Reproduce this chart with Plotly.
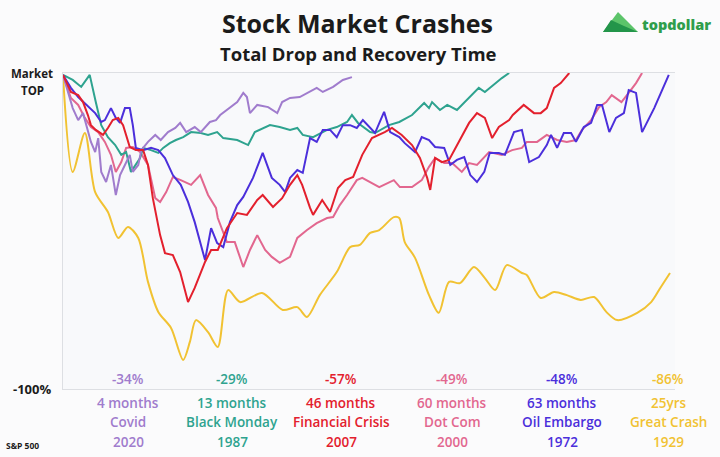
import plotly.graph_objects as go

# ---------------- data (x: share of timeline 0-100, y: % below market top) -------------
great_crash_x = [0, 1.6, 3.6, 5.3, 7.4, 9.1, 10.7, 12.4, 14.0, 15.7, 17.8, 19.8, 20.9, 21.9, 23.9, 25.5,
                 27.2, 29.2, 32.8, 36.2, 38.6, 40.2, 42.3, 45.1, 47.3, 48.9, 50.6, 52.1, 54.5, 55.4,
                 56.3, 58.0, 60.3, 61.9, 63.6, 65.4, 67.7, 69.5, 71.2, 73.1, 75.6, 76.4, 78.7, 80.9,
                 83.0, 85.3, 87.5, 89.5, 91.3, 94.6, 96.9, 98.5, 100]
great_crash_y = [-0.6, -31.3, -19.0, -37.7, -44.0, -52.2, -48.7, -52.2, -66.1, -75.6, -80.7, -90.8, -85.1,
                 -78.2, -82.0, -86.7, -68.7, -72.5, -69.6, -75.0, -74.1, -77.2, -70.3, -63.0, -55.1,
                 -54.4, -50.6, -49.7, -45.6, -45.9, -53.5, -58.5, -70.3, -75.9, -66.1, -66.5, -61.4,
                 -64.9, -68.7, -60.8, -63.3, -63.9, -71.2, -69.3, -70.3, -71.8, -70.9, -75.6, -78.2,
                 -75.9, -72.5, -67.7, -63.3]

dot_com_x = [0, 1.3, 2.5, 3.6, 4.6, 5.8, 6.9, 7.9, 8.7, 9.6, 10.4, 11.5, 12.7, 14.0, 15.2, 16.0, 17.0,
             18.1, 19.4, 21.1, 22.6, 23.9, 25.2, 25.5, 27.0, 28.3, 29.7, 30.8, 32.0, 33.3, 34.4, 35.7,
             37.4, 38.6, 40.2, 41.8, 43.5, 44.5, 45.6, 46.8, 48.4, 49.3, 52.1, 54.5, 55.5, 57.5, 59.1,
             60.3, 61.3, 62.8, 64.1, 65.7, 66.9, 68.2, 70.2, 72.3, 74.0, 75.6, 76.4, 78.1, 79.7, 81.4,
             83.0, 84.5, 85.5, 87.0, 88.3, 89.5, 90.4, 92.0, 93.2, 94.4, 95.4]
dot_com_y = [-0.6, -7.9, -10.1, -14.2, -17.1, -18.7, -21.8, -25.9, -31.3, -28.2, -23.7, -23.4, -25.0,
             -29.1, -39.6, -40.8, -37.7, -32.9, -33.9, -35.4, -32.3, -38.6, -42.7, -45.9, -53.5, -53.5,
             -61.4, -56.0, -51.3, -56.0, -58.2, -60.1, -58.2, -52.2, -49.7, -47.5, -45.9, -45.6, -41.8,
             -38.6, -33.9, -33.2, -36.1, -33.9, -36.1, -36.1, -33.9, -29.7, -26.9, -28.5, -28.5, -31.3,
             -28.5, -29.1, -25.0, -25.9, -24.4, -23.7, -21.8, -21.8, -19.6, -21.2, -21.8, -21.2, -18.0,
             -14.9, -10.8, -9.2, -7.0, -9.2, -6.3, -3.2, 0]

black_monday_x = [0, 1.6, 3.0, 4.4, 5.4, 6.3, 7.4, 8.6, 9.6, 10.4, 11.2, 12.0, 12.7, 13.2, 14.5, 15.7,
                  16.5, 17.6, 18.6, 19.8, 21.1, 22.7, 23.9, 25.4, 26.4, 28.7, 30.5, 31.6, 34.1, 35.7,
                  37.4, 38.6, 39.5, 41.2, 43.5, 45.1, 46.8, 47.6, 48.6, 50.6, 51.4, 53.7, 55.4, 57.5,
                  59.5, 60.3, 60.8, 62.1, 63.3, 64.9, 66.9, 68.5, 69.5, 71.2, 72.3, 73.5]
black_monday_y = [-0.6, -2.2, -4.4, -0.6, -9.2, -16.5, -20.3, -22.8, -25.9, -25.0, -31.3, -29.1, -26.9,
                  -23.7, -24.4, -25.3, -23.7, -22.2, -21.2, -20.3, -18.7, -19.0, -19.6, -18.7, -20.6,
                  -21.2, -22.8, -18.7, -16.5, -17.1, -18.0, -17.4, -19.6, -20.3, -18.0, -17.1, -15.5,
                  -13.3, -15.8, -18.7, -19.0, -16.5, -15.5, -13.3, -9.5, -11.1, -9.2, -11.7, -10.1,
                  -11.7, -7.9, -4.7, -6.0, -3.2, -1.6, 0]

covid_x = [0, 1.6, 2.5, 3.3, 4.6, 5.3, 5.8, 6.3, 7.1, 7.9, 8.7, 9.4, 10.2, 11.0, 11.5, 12.4, 12.9, 14.0,
           15.2, 16.1, 17.3, 18.5, 19.3, 20.3, 21.7, 22.7, 24.2, 25.2, 25.9, 27.5, 28.7, 29.7, 30.3,
           30.8, 32.0, 33.8, 35.3, 36.1, 37.4, 39.0, 40.7, 41.8, 42.8, 44.5, 46.1, 47.6]
covid_y = [-0.6, -11.1, -14.9, -12.7, -21.8, -25.0, -20.6, -31.3, -34.5, -29.1, -38.6, -32.3, -29.1,
           -25.9, -31.3, -29.1, -24.4, -21.8, -19.6, -21.2, -18.7, -17.4, -15.8, -18.7, -17.1, -18.7,
           -15.5, -14.9, -13.3, -11.1, -9.2, -6.3, -7.6, -12.7, -10.1, -10.8, -12.7, -9.2, -7.9, -7.6,
           -6.0, -4.7, -6.0, -4.4, -2.2, -1.3]

oil_embargo_x = [0, 1.3, 2.5, 3.8, 5.3, 6.3, 6.9, 7.9, 8.7, 9.4, 10.2, 11.0, 11.5, 12.0, 13.2, 14.5,
                 15.7, 16.8, 18.1, 19.4, 20.6, 21.7, 23.4, 24.4, 25.4, 26.4, 27.5, 28.7, 29.7, 31.3,
                 32.9, 34.4, 35.7, 36.6, 37.4, 38.6, 39.5, 40.7, 41.8, 42.8, 44.0, 45.1, 46.1, 47.3,
                 48.4, 49.4, 50.4, 51.4, 52.9, 53.9, 55.4, 56.3, 58.0, 59.1, 60.3, 61.3, 62.8, 63.8,
                 64.9, 66.1, 67.1, 68.2, 69.4, 70.3, 71.8, 72.8, 74.3, 75.6, 76.8, 78.4, 79.7, 80.4,
                 81.4, 82.5, 83.7, 84.5, 85.8, 87.0, 88.0, 88.8, 90.0, 91.1, 92.4, 93.2, 94.4, 95.4,
                 97.4, 99.8]
oil_embargo_y = [-0.6, -4.7, -7.6, -10.1, -12.7, -15.5, -14.9, -11.1, -14.2, -15.8, -11.1, -11.1, -16.5,
                 -23.7, -24.4, -23.7, -24.4, -26.9, -32.3, -35.4, -40.8, -47.2, -59.2, -49.1, -53.8,
                 -55.1, -47.2, -41.8, -39.2, -33.2, -25.3, -33.2, -35.4, -37.7, -33.2, -30.7, -31.6,
                 -20.6, -21.8, -18.0, -18.0, -20.3, -16.5, -16.5, -17.4, -14.9, -17.1, -19.0, -12.3,
                 -18.7, -20.3, -22.2, -25.0, -20.3, -21.2, -23.4, -23.7, -29.1, -27.5, -26.6, -32.3,
                 -34.5, -31.3, -25.3, -25.3, -25.9, -18.7, -18.0, -28.2, -26.6, -22.8, -19.6, -23.7,
                 -19.0, -19.0, -21.8, -17.1, -15.8, -10.1, -10.1, -18.7, -14.2, -12.7, -5.4, -6.3,
                 -18.7, -11.1, -0.6]

financial_x = [0, 1.3, 2.5, 3.3, 4.1, 4.6, 5.4, 6.6, 7.4, 8.2, 9.1, 9.9, 11.0, 12.0, 13.2, 14.0, 14.8,
               16.0, 16.8, 18.1, 19.3, 20.6, 21.7, 23.4, 24.4, 25.5, 27.0, 28.7, 30.3, 32.0, 32.9, 34.6,
               36.1, 37.4, 38.6, 39.4, 40.7, 41.2, 42.7, 44.0, 45.3, 46.5, 47.8, 49.3, 50.9, 52.1, 53.0,
               54.2, 55.8, 57.5, 58.8, 60.0, 60.5, 61.3, 62.4, 63.6, 65.2, 66.9, 68.2, 69.5, 70.7, 71.8,
               73.5, 74.1, 75.9, 77.6, 78.7, 79.7, 80.9, 82.0, 83.4]
financial_y = [-0.6, -6.0, -7.0, -9.2, -13.3, -16.5, -18.0, -19.6, -17.4, -14.9, -14.2, -16.5, -23.4,
               -24.4, -24.4, -29.1, -39.6, -51.3, -57.0, -57.6, -63.0, -72.5, -68.0, -59.8, -56.0, -56.0,
               -49.1, -44.3, -44.9, -40.2, -38.6, -42.4, -39.6, -35.4, -32.3, -35.4, -42.7, -44.9, -40.2,
               -44.0, -36.4, -33.9, -32.9, -25.9, -20.6, -19.6, -18.7, -17.4, -19.6, -22.8, -26.9, -33.2,
               -37.0, -26.9, -28.2, -27.5, -21.8, -15.8, -12.7, -14.2, -20.6, -17.1, -14.9, -13.3, -10.1,
               -12.7, -12.7, -11.1, -4.7, -3.2, 0]

# bottom labels
drops = ["-34%", "-29%", "-57%", "-49%", "-48%", "-86%"]
durations = ["4 months", "13 months", "46 months", "60 months", "63 months", "25yrs"]
names = ["Covid", "Black Monday", "Financial Crisis", "Dot Com", "Oil Embargo", "Great Crash"]
years = ["2020", "1987", "2007", "2000", "1972", "1929"]

# ---------------- styling ----------------
C_COVID = "#a07ccd"
C_BM = "#2ea38f"
C_FIN = "#e3202d"
C_DOT = "#e2678f"
C_OIL = "#4b2fdb"
C_GC = "#f1c232"
label_colors = [C_COVID, C_BM, C_FIN, C_DOT, C_OIL, C_GC]

FONT = "Open Sans"

# pixel layout helpers (720 x 457 canvas)
L, RE, TOP, BOT = 63, 675, 73, 389
W, H = RE - L, BOT - TOP
PX_PER_UNIT = 6.07


def px(x):
    return (x - L) / W


def py(y):
    return (BOT - y) / H


fig = go.Figure()

series = [
    (great_crash_x, great_crash_y, C_GC, "spline"),
    (dot_com_x, dot_com_y, C_DOT, "linear"),
    (black_monday_x, black_monday_y, C_BM, "linear"),
    (covid_x, covid_y, C_COVID, "linear"),
    (oil_embargo_x, oil_embargo_y, C_OIL, "linear"),
    (financial_x, financial_y, C_FIN, "linear"),
]
for xs, ys, col, shape in series:
    fig.add_trace(go.Scatter(x=xs, y=ys, mode="lines", cliponaxis=False,
                             line=dict(color=col, width=2, shape=shape, smoothing=0.8),
                             hoverinfo="skip", showlegend=False))

fig.update_layout(
    width=720, height=457,
    margin=dict(l=L, r=720 - RE, t=TOP, b=457 - BOT, pad=0),
    paper_bgcolor="#fbfbfc", plot_bgcolor="#f8f9fb",
    showlegend=False,
    xaxis=dict(range=[0, W / PX_PER_UNIT], showgrid=False, zeroline=False, showticklabels=False,
               ticks="", showline=True, linecolor="#dddfe3", linewidth=1, mirror=True, fixedrange=True),
    yaxis=dict(range=[-100, 0], showgrid=False, zeroline=False, showticklabels=False,
               ticks="", showline=True, linecolor="#dddfe3", linewidth=1, mirror=False, fixedrange=True),
)

ann = []


def text(x, y, s, size, color, weight=700, xanchor="center"):
    ann.append(dict(x=px(x), y=py(y), xref="paper", yref="paper", text=s, showarrow=False,
                    xanchor=xanchor, yanchor="middle",
                    font=dict(family=FONT, size=size, color=color, weight=weight)))


text(357, 23, "Stock Market Crashes", 25, "#1b1b1b", 700)
text(358, 53, "Total Drop and Recovery Time", 18.5, "#1b1b1b", 700)
text(32, 73, "Market", 11.5, "#1b1b1b", 700)
text(32, 91, "TOP", 11.5, "#1b1b1b", 700)
text(32, 389, "-100%", 13, "#1b1b1b", 700)
text(22, 445, "S&amp;P 500", 8.5, "#1b1b1b", 700)

cols = [128, 232, 341, 452, 562, 668]
for i, cx in enumerate(cols):
    c = label_colors[i]
    text(cx, 379, drops[i], 13.5, c, 600)
    text(cx, 403, durations[i], 13.5, c, 600)
    text(cx, 422, names[i], 13.5, c, 600)
    text(cx, 442, years[i], 13.5, c, 600)

# logo
text(676, 24, "topdollar", 14.5, "#2f9e4c", 800)
fig.update_layout(annotations=ann)

fig.add_shape(type="path", xref="paper", yref="paper",
              path=f"M {px(603)},{py(32)} L {px(618)},{py(12)} L {px(638)},{py(32)} Z",
              fillcolor="#5cc46a", line=dict(width=0))
fig.add_shape(type="path", xref="paper", yref="paper",
              path=f"M {px(603)},{py(32)} L {px(611)},{py(20)} L {px(624)},{py(26)} L {px(638)},{py(32)} Z",
              fillcolor="#23954a", line=dict(width=0))

fig.write_html("out.html")
